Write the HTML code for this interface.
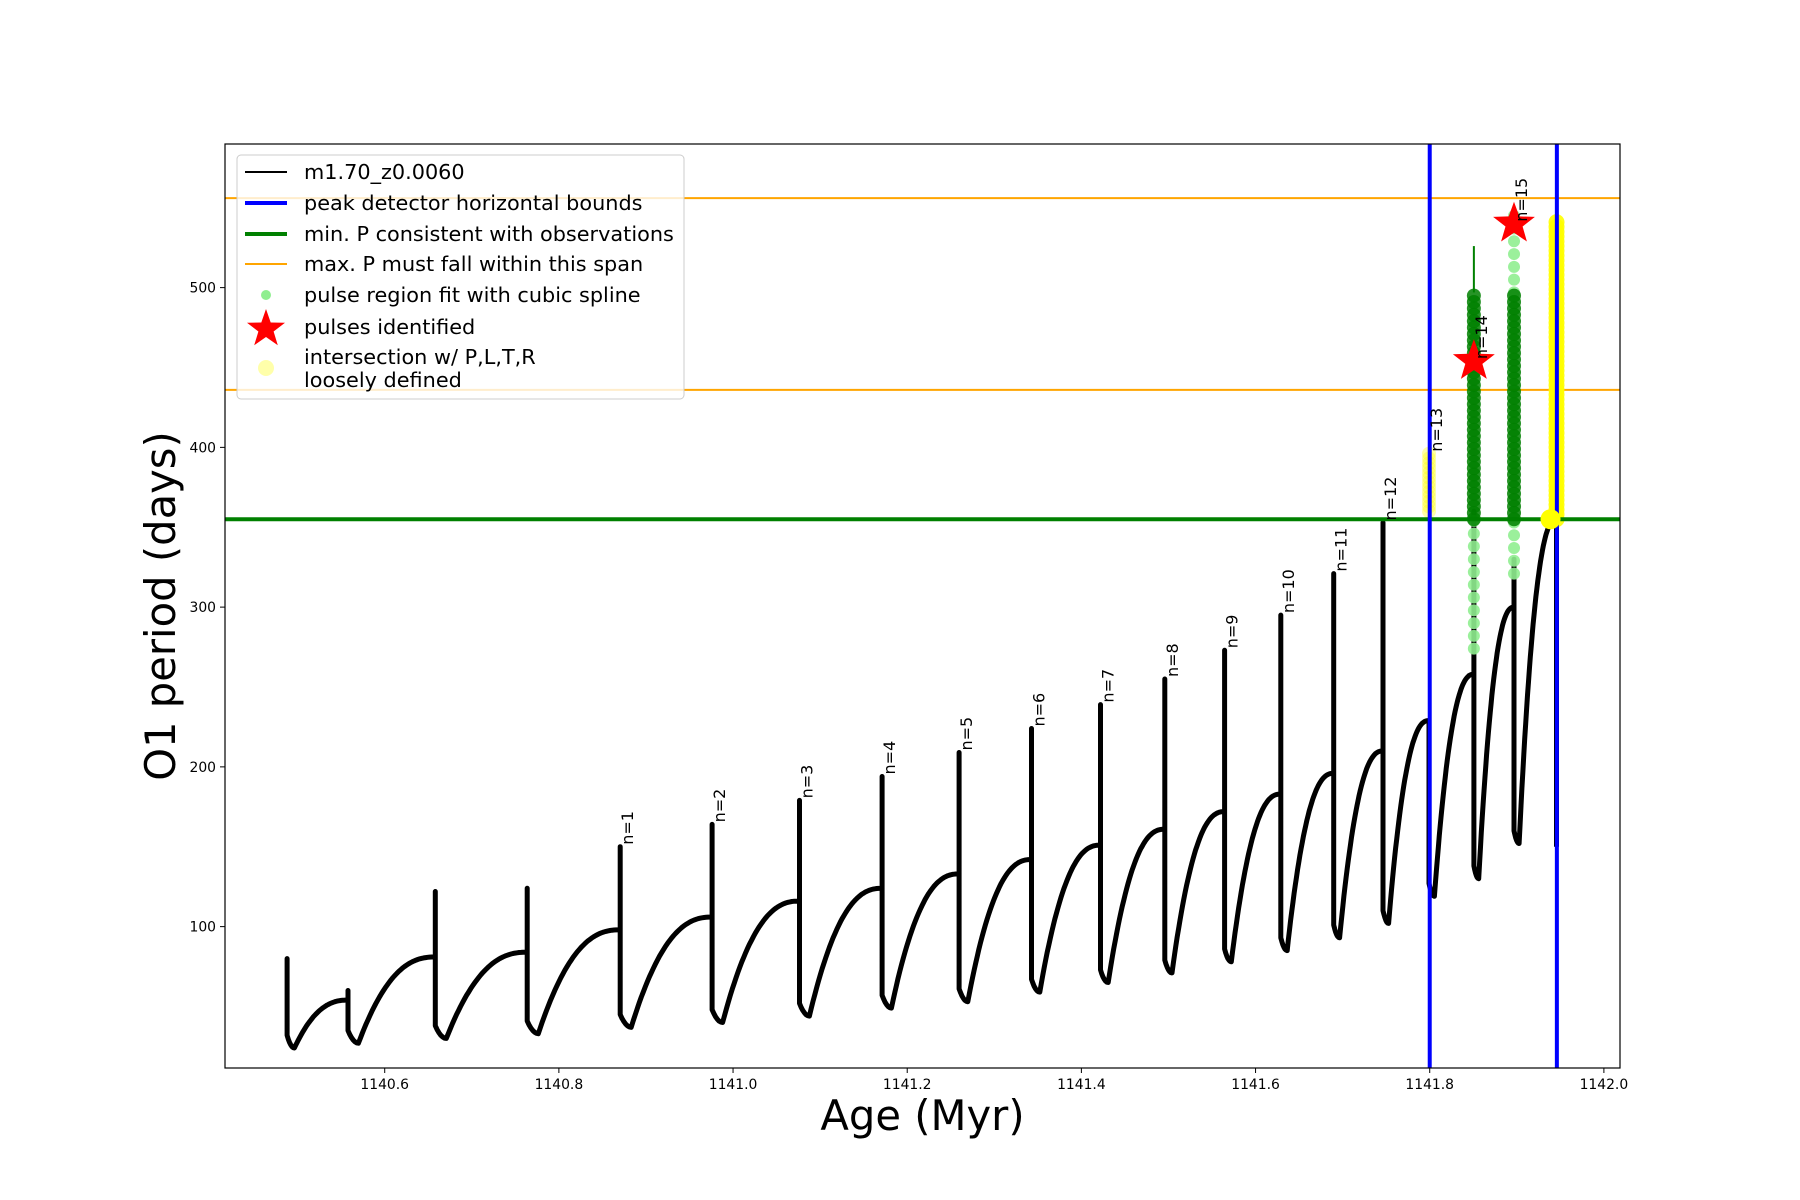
<!DOCTYPE html>
<html><head><meta charset="utf-8"><style>
html,body{margin:0;padding:0;background:#fff;}
svg{display:block;font-family:"DejaVu Sans","Liberation Sans",sans-serif;}
</style></head><body>
<svg id="chart" width="1800" height="1200" viewBox="0 0 1800 1200" xmlns="http://www.w3.org/2000/svg">
<rect x="0" y="0" width="1800" height="1200" fill="#fff"/>
<g id="plot"></g>
</svg>
<script>
// ---- data ----
const pulseAge = [1140.4879,1140.5578,1140.6581,1140.7636,1140.8704,1140.9760,1141.0763,1141.1712,1141.2596,1141.3427,1141.4219,1141.4958,1141.5644,1141.6290,1141.6897,1141.7464,1141.7992,1141.8507,1141.8968,1141.9456];
const preP  = [57,54,81,84,98,106,116,124,133,142,151,161,172,183,196,210,229,258,300,355];
const peakP = [80,60,122,124,150,164,179,194,209,224,239,255,273,295,321,353,229,360,330,360];
const minP  = [24,27,30,33,37,40,44,49,53,59,65,71,78,85,93,102,119,130,152,150];
const pulseLabels = ["n=1","n=2","n=3","n=4","n=5","n=6","n=7","n=8","n=9","n=10","n=11","n=12","n=13","n=14","n=15"];
const labelAge = [1140.8704,1140.9760,1141.0763,1141.1712,1141.2596,1141.3427,1141.4219,1141.4958,1141.5644,1141.6290,1141.6897,1141.7464,1141.7992,1141.8507,1141.8968];
const labelVal = [150,164,179,194,209,224,239,255,273,295,321,353,396,454,540];
const boundAges = [1141.8,1141.946];
const minObsP = [355];
const maxSpanP = [556,436];
const starAge = [1141.8507,1141.8968];
const starP = [454,540];
const darkAge = [1141.8507,1141.8968];
const darkLo = [355,355];
const darkHi = [497,497];
const lightAge = [1141.8507,1141.8968,1141.8968];
const lightLo = [274,321,497];
const lightHi = [355,355,545];
const yellowAge = [1141.7992,1141.9456];
const yellowLo = [360,355];
const yellowHi = [396,542];
const xTicks = [1140.6,1140.8,1141.0,1141.2,1141.4,1141.6,1141.8,1142.0];
const yTicks = [100,200,300,400,500];

// ---- axes ----
const L=225,R=1620,T=144,B=1068;
const xMin=1140.4166,xMax=1142.0185,yMin=11.5,yMax=589.9;
const X=v=>L+(v-xMin)/(xMax-xMin)*(R-L);
const Y=v=>B-(v-yMin)/(yMax-yMin)*(B-T);
const NS="http://www.w3.org/2000/svg";
const plot=document.getElementById('plot');
function mk(tag,attrs,parent){const e=document.createElementNS(NS,tag);for(const k in attrs)e.setAttribute(k,attrs[k]);(parent||plot).appendChild(e);return e;}

const clip=mk('clipPath',{id:'cp'});mk('rect',{x:L,y:T,width:R-L,height:B-T},clip);
const g=mk('g',{'clip-path':'url(#cp)'});



// black curve
let pts=[];
for(let i=0;i<pulseAge.length;i++){
  const t=pulseAge[i];
  pts.push([t,preP[i]]);pts.push([t,peakP[i]]);
  if(i===pulseAge.length-1){pts.push([t,minP[i]]);break;}
  const nt=pulseAge[i+1],iv=nt-t,dt=0.12*iv;
  pts.push([t,minP[i]+8]);
  for(let k=1;k<=6;k++){const s=k/6;pts.push([t+dt*s,minP[i]+8*(1-s)*(1-s)]);}
  for(let k=1;k<=40;k++){const s=k/40;pts.push([t+dt+(iv-dt)*s,minP[i]+(preP[i+1]-minP[i])*(1-Math.pow(1-s,2.4))]);}
}
const curve=mk('path',{d:'M'+pts.map(p=>X(p[0]).toFixed(1)+','+Y(p[1]).toFixed(1)).join('L'),fill:'none',stroke:'#000','stroke-width':5,'stroke-linejoin':'round'},g);



maxSpanP.forEach(v=>{const l=mk('line',{x1:L,x2:R,y1:Y(v),y2:Y(v),stroke:'#ffa500','stroke-width':2},g);

});
yellowAge.forEach((a,i)=>{for(let v=yellowLo[i];v<=yellowHi[i];v+=3){const c=mk('circle',{cx:X(a),cy:Y(v),r:i===1?8:7,fill:'#ffff00','fill-opacity':i===1?0.9:0.35},g);

}});
lightAge.forEach((a,i)=>{for(let v=lightLo[i];v<=lightHi[i];v+=8){const c=mk('circle',{cx:X(a),cy:Y(v),r:6,fill:'#90ee90','fill-opacity':0.9},g);

}});
const thin=mk('line',{x1:X(darkAge[0]),x2:X(darkAge[0]),y1:Y(darkHi[0]),y2:Y(526),stroke:'#008000','stroke-width':2},g);


darkAge.forEach((a,i)=>{for(let v=darkLo[i];v<=darkHi[i];v+=4){const c=mk('circle',{cx:X(a),cy:Y(v),r:7,fill:'#008000','fill-opacity':0.85},g);

}});
minObsP.forEach(v=>{const l=mk('line',{x1:L,x2:R,y1:Y(v),y2:Y(v),stroke:'#008000','stroke-width':4},g);

});
boundAges.forEach(a=>{const l=mk('line',{x1:X(a),x2:X(a),y1:T,y2:B,stroke:'#0000ff','stroke-width':4},g);

});
const bigDot=mk('circle',{cx:X(yellowAge[1])-6,cy:Y(yellowLo[1]),r:10,fill:'#ffff00'},g);


function starPath(cx,cy,ro,ri){let d='';for(let k=0;k<10;k++){const r=k%2?ri:ro,an=-Math.PI/2+k*Math.PI/5;d+=(k?'L':'M')+(cx+r*Math.cos(an)).toFixed(1)+','+(cy+r*Math.sin(an)).toFixed(1);}return d+'Z';}
starAge.forEach((a,i)=>{const s=mk('path',{d:starPath(X(a),Y(starP[i]),22,9),fill:'#ff0000'},g);

});
pulseLabels.forEach((t,i)=>{const x=X(labelAge[i])+13,y=Y(labelVal[i])-2;
const e=mk('text',{x:x,y:y,transform:`rotate(-90 ${x} ${y})`,'font-size':16});e.textContent=t;

});

const fr=mk('rect',{x:L,y:T,width:R-L,height:B-T,fill:'none',stroke:'#000','stroke-width':1.2});


xTicks.forEach(v=>{mk('line',{x1:X(v),x2:X(v),y1:B,y2:B+5,stroke:'#000'});
const t=mk('text',{x:X(v),y:B+21,'text-anchor':'middle','font-size':13.9});t.textContent=v.toFixed(1);

});
yTicks.forEach(v=>{mk('line',{x1:L-5,x2:L,y1:Y(v),y2:Y(v),stroke:'#000'});
const t=mk('text',{x:L-9,y:Y(v)+5,'text-anchor':'end','font-size':13.9});t.textContent=v;

});
const xt=mk('text',{x:(L+R)/2,y:1130,'text-anchor':'middle','font-size':41.7});xt.textContent='Age (Myr)';


const yt=mk('text',{x:175,y:(T+B)/2,'text-anchor':'middle','font-size':41.7,transform:`rotate(-90 175 ${(T+B)/2})`});yt.textContent='O1 period (days)';



const lg=mk('g',{});


mk('rect',{x:237,y:155,width:447,height:244,rx:4,fill:'#fff','fill-opacity':0.8,stroke:'#ccc'},lg);
const items=[
 ['m1.70_z0.0060',172,'line','#000',2],
 ['peak detector horizontal bounds',203,'line','#0000ff',4],
 ['min. P consistent with observations',234,'line','#008000',4],
 ['max. P must fall within this span',264,'line','#ffa500',2],
 ['pulse region fit with cubic spline',295,'dot','#90ee90',5],
 ['pulses identified',327,'star','#ff0000',0],
 ['',368,'dot','#ffffaa',8]];
items.forEach(it=>{
 if(it[2]==='line'){mk('line',{x1:245,x2:287,y1:it[1],y2:it[1],stroke:it[3],'stroke-width':it[4]},lg);}
 else if(it[2]==='dot'){mk('circle',{cx:266,cy:it[1],r:it[4],fill:it[3]},lg);}
 else {mk('path',{d:starPath(266,it[1]+2,20,8),fill:it[3]},lg);}
 if(it[0]){const t=mk('text',{x:304,y:it[1]+7,'font-size':20.8},lg);t.textContent=it[0];
 
 }
});
const t1=mk('text',{x:304,y:364,'font-size':20.8},lg);t1.textContent='intersection w/ P,L,T,R';


const t2=mk('text',{x:304,y:387,'font-size':20.8},lg);t2.textContent='loosely defined';


</script>
</body></html>
